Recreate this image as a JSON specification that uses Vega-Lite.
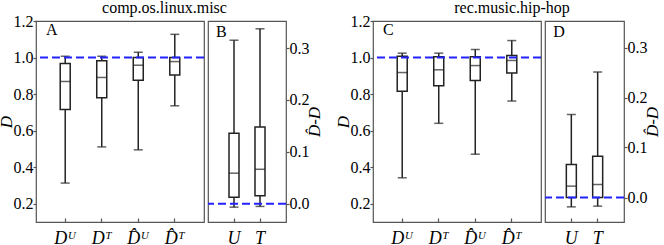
{
  "$schema": "https://vega.github.io/schema/vega-lite/v6.json",
  "padding": {"left": -4, "top": 0, "right": 0, "bottom": 0},
  "datasets": {
    "A": [
      {"cat": "D\u1d41", "lo": 0.313, "q1": 0.716, "med": 0.869, "q3": 0.967, "hi": 1.007},
      {"cat": "D\u1d40", "lo": 0.511, "q1": 0.78, "med": 0.891, "q3": 0.982, "hi": 1.007},
      {"cat": "D\u0302\u1d41", "lo": 0.495, "q1": 0.876, "med": 0.958, "q3": 1.0, "hi": 1.029},
      {"cat": "D\u0302\u1d40", "lo": 0.736, "q1": 0.904, "med": 0.978, "q3": 1.0, "hi": 1.127}
    ],
    "B": [
      {"cat": "U", "lo": -0.0064, "q1": 0.0128, "med": 0.059, "q3": 0.136, "hi": 0.315},
      {"cat": "T", "lo": -0.005, "q1": 0.0154, "med": 0.0665, "q3": 0.148, "hi": 0.337}
    ],
    "C": [
      {"cat": "D\u1d41", "lo": 0.342, "q1": 0.815, "med": 0.918, "q3": 1.007, "hi": 1.024},
      {"cat": "D\u1d40", "lo": 0.64, "q1": 0.845, "med": 0.933, "q3": 1.004, "hi": 1.024},
      {"cat": "D\u0302\u1d41", "lo": 0.471, "q1": 0.875, "med": 0.956, "q3": 1.004, "hi": 1.044},
      {"cat": "D\u0302\u1d40", "lo": 0.762, "q1": 0.915, "med": 0.984, "q3": 1.011, "hi": 1.093}
    ],
    "D": [
      {"cat": "U", "lo": -0.0187, "q1": 0.0, "med": 0.0227, "q3": 0.066, "hi": 0.166},
      {"cat": "T", "lo": -0.0173, "q1": 0.0, "med": 0.026, "q3": 0.0827, "hi": 0.251}
    ],
    "refs": [
      {"panel": "A", "ref": 1.0},
      {"panel": "B", "ref": 0.0},
      {"panel": "C", "ref": 1.0},
      {"panel": "D", "ref": 0.0}
    ],
    "letters": [
      {"panel": "A", "text": "A", "cat": "D\u1d41", "y": 1.123},
      {"panel": "B", "text": "B", "cat": "U", "y": 0.321},
      {"panel": "C", "text": "C", "cat": "D\u1d41", "y": 1.123},
      {"panel": "D", "text": "D", "cat": "U", "y": 0.321}
    ]
  },
  "hconcat": [
    {
      "title": {"text": "comp.os.linux.misc", "anchor": "middle", "dx": 5, "font": "Liberation Serif", "fontSize": 16, "fontWeight": "normal", "color": "#000", "offset": -4},
      "spacing": 0,
      "hconcat": [
        {
          "width": 168, "height": 201,
          "layer": [
            {"data": {"name": "A"}, "mark": {"type": "rule", "color": "#222", "strokeWidth": 1.5},
             "encoding": {"x": {"field": "cat", "type": "nominal", "sort": null, "scale": {"paddingInner": 0, "paddingOuter": 0.3}, "axis": {"title": null}},
                          "y": {"field": "lo", "type": "quantitative", "scale": {"domain": [0.1, 1.2], "nice": false, "zero": false}, "axis": {"orient": "left", "title": "D", "values": [0.2, 0.4, 0.6, 0.8, 1.0, 1.2], "format": ".1f"}},
                          "y2": {"field": "hi"}}},
            {"data": {"name": "A"}, "mark": {"type": "tick", "color": "#222", "size": 9, "thickness": 1.5},
             "encoding": {"x": {"field": "cat", "type": "nominal", "sort": null, "scale": {"paddingInner": 0, "paddingOuter": 0.3}, "axis": {"title": null}},
                          "y": {"field": "lo", "type": "quantitative", "scale": {"domain": [0.1, 1.2], "nice": false, "zero": false}, "axis": {"orient": "left", "title": "D", "values": [0.2, 0.4, 0.6, 0.8, 1.0, 1.2], "format": ".1f"}}}},
            {"data": {"name": "A"}, "mark": {"type": "tick", "color": "#222", "size": 9, "thickness": 1.5},
             "encoding": {"x": {"field": "cat", "type": "nominal", "sort": null, "scale": {"paddingInner": 0, "paddingOuter": 0.3}, "axis": {"title": null}},
                          "y": {"field": "hi", "type": "quantitative", "scale": {"domain": [0.1, 1.2], "nice": false, "zero": false}, "axis": {"orient": "left", "title": "D", "values": [0.2, 0.4, 0.6, 0.8, 1.0, 1.2], "format": ".1f"}}}},
            {"data": {"name": "A"}, "mark": {"type": "bar", "fill": "white", "stroke": "#222", "strokeWidth": 1.5, "size": 10},
             "encoding": {"x": {"field": "cat", "type": "nominal", "sort": null, "scale": {"paddingInner": 0, "paddingOuter": 0.3}, "axis": {"title": null}},
                          "y": {"field": "q1", "type": "quantitative", "scale": {"domain": [0.1, 1.2], "nice": false, "zero": false}, "axis": {"orient": "left", "title": "D", "values": [0.2, 0.4, 0.6, 0.8, 1.0, 1.2], "format": ".1f"}},
                          "y2": {"field": "q3"}}},
            {"data": {"name": "A"}, "mark": {"type": "tick", "color": "#222", "size": 10, "thickness": 1.5},
             "encoding": {"x": {"field": "cat", "type": "nominal", "sort": null, "scale": {"paddingInner": 0, "paddingOuter": 0.3}, "axis": {"title": null}},
                          "y": {"field": "med", "type": "quantitative", "scale": {"domain": [0.1, 1.2], "nice": false, "zero": false}, "axis": {"orient": "left", "title": "D", "values": [0.2, 0.4, 0.6, 0.8, 1.0, 1.2], "format": ".1f"}}}},
            {"data": {"name": "refs"}, "transform": [{"filter": "datum.panel === 'A'"}],
             "mark": {"type": "rule", "color": "#2222ff", "strokeWidth": 2, "strokeDash": [8, 4]},
             "encoding": {"y": {"field": "ref", "type": "quantitative", "scale": {"domain": [0.1, 1.2], "nice": false, "zero": false}, "axis": {"orient": "left", "title": "D", "values": [0.2, 0.4, 0.6, 0.8, 1.0, 1.2], "format": ".1f"}}}},
            {"data": {"name": "letters"}, "transform": [{"filter": "datum.panel === 'A'"}],
             "mark": {"type": "text", "align": "left", "baseline": "alphabetic", "dx": -1, "fontSize": 16, "font": "Liberation Serif", "color": "#000"},
             "encoding": {"x": {"field": "cat", "type": "nominal", "sort": null, "bandPosition": 0, "scale": {"paddingInner": 0, "paddingOuter": 0.3}, "axis": {"title": null}},
                          "y": {"field": "y", "type": "quantitative", "scale": {"domain": [0.1, 1.2], "nice": false, "zero": false}, "axis": {"orient": "left", "title": "D", "values": [0.2, 0.4, 0.6, 0.8, 1.0, 1.2], "format": ".1f"}},
                          "text": {"field": "text"}}}
          ]
        },
        {
          "width": 78, "height": 201,
          "layer": [
            {"data": {"name": "B"}, "mark": {"type": "rule", "color": "#222", "strokeWidth": 1.5},
             "encoding": {"x": {"field": "cat", "type": "nominal", "sort": null, "scale": {"paddingInner": 0, "paddingOuter": 0.5}, "axis": {"title": null}},
                          "y": {"field": "lo", "type": "quantitative", "scale": {"domain": [-0.035, 0.352], "nice": false, "zero": false}, "axis": {"orient": "right", "title": "D\u0302-D", "values": [0, 0.1, 0.2, 0.3], "format": ".1f", "titleAngle": 270}},
                          "y2": {"field": "hi"}}},
            {"data": {"name": "B"}, "mark": {"type": "tick", "color": "#222", "size": 9, "thickness": 1.5},
             "encoding": {"x": {"field": "cat", "type": "nominal", "sort": null, "scale": {"paddingInner": 0, "paddingOuter": 0.5}, "axis": {"title": null}},
                          "y": {"field": "lo", "type": "quantitative", "scale": {"domain": [-0.035, 0.352], "nice": false, "zero": false}, "axis": {"orient": "right", "title": "D\u0302-D", "values": [0, 0.1, 0.2, 0.3], "format": ".1f", "titleAngle": 270}}}},
            {"data": {"name": "B"}, "mark": {"type": "tick", "color": "#222", "size": 9, "thickness": 1.5},
             "encoding": {"x": {"field": "cat", "type": "nominal", "sort": null, "scale": {"paddingInner": 0, "paddingOuter": 0.5}, "axis": {"title": null}},
                          "y": {"field": "hi", "type": "quantitative", "scale": {"domain": [-0.035, 0.352], "nice": false, "zero": false}, "axis": {"orient": "right", "title": "D\u0302-D", "values": [0, 0.1, 0.2, 0.3], "format": ".1f", "titleAngle": 270}}}},
            {"data": {"name": "B"}, "mark": {"type": "bar", "fill": "white", "stroke": "#222", "strokeWidth": 1.5, "size": 10},
             "encoding": {"x": {"field": "cat", "type": "nominal", "sort": null, "scale": {"paddingInner": 0, "paddingOuter": 0.5}, "axis": {"title": null}},
                          "y": {"field": "q1", "type": "quantitative", "scale": {"domain": [-0.035, 0.352], "nice": false, "zero": false}, "axis": {"orient": "right", "title": "D\u0302-D", "values": [0, 0.1, 0.2, 0.3], "format": ".1f", "titleAngle": 270}},
                          "y2": {"field": "q3"}}},
            {"data": {"name": "B"}, "mark": {"type": "tick", "color": "#222", "size": 10, "thickness": 1.5},
             "encoding": {"x": {"field": "cat", "type": "nominal", "sort": null, "scale": {"paddingInner": 0, "paddingOuter": 0.5}, "axis": {"title": null}},
                          "y": {"field": "med", "type": "quantitative", "scale": {"domain": [-0.035, 0.352], "nice": false, "zero": false}, "axis": {"orient": "right", "title": "D\u0302-D", "values": [0, 0.1, 0.2, 0.3], "format": ".1f", "titleAngle": 270}}}},
            {"data": {"name": "refs"}, "transform": [{"filter": "datum.panel === 'B'"}],
             "mark": {"type": "rule", "color": "#2222ff", "strokeWidth": 2, "strokeDash": [8, 4]},
             "encoding": {"y": {"field": "ref", "type": "quantitative", "scale": {"domain": [-0.035, 0.352], "nice": false, "zero": false}, "axis": {"orient": "right", "title": "D\u0302-D", "values": [0, 0.1, 0.2, 0.3], "format": ".1f", "titleAngle": 270}}}},
            {"data": {"name": "letters"}, "transform": [{"filter": "datum.panel === 'B'"}],
             "mark": {"type": "text", "align": "left", "baseline": "alphabetic", "dx": -5, "fontSize": 16, "font": "Liberation Serif", "color": "#000"},
             "encoding": {"x": {"field": "cat", "type": "nominal", "sort": null, "bandPosition": 0, "scale": {"paddingInner": 0, "paddingOuter": 0.5}, "axis": {"title": null}},
                          "y": {"field": "y", "type": "quantitative", "scale": {"domain": [-0.035, 0.352], "nice": false, "zero": false}, "axis": {"orient": "right", "title": "D\u0302-D", "values": [0, 0.1, 0.2, 0.3], "format": ".1f", "titleAngle": 270}},
                          "text": {"field": "text"}}}
          ]
        }
      ]
    },
    {
      "title": {"text": "rec.music.hip-hop", "anchor": "middle", "dx": 15, "font": "Liberation Serif", "fontSize": 16, "fontWeight": "normal", "color": "#000", "offset": -4},
      "spacing": 0,
      "hconcat": [
        {
          "width": 168, "height": 201,
          "layer": [
            {"data": {"name": "C"}, "mark": {"type": "rule", "color": "#222", "strokeWidth": 1.5},
             "encoding": {"x": {"field": "cat", "type": "nominal", "sort": null, "scale": {"paddingInner": 0, "paddingOuter": 0.3}, "axis": {"title": null}},
                          "y": {"field": "lo", "type": "quantitative", "scale": {"domain": [0.1, 1.2], "nice": false, "zero": false}, "axis": {"orient": "left", "title": "D", "values": [0.2, 0.4, 0.6, 0.8, 1.0, 1.2], "format": ".1f"}},
                          "y2": {"field": "hi"}}},
            {"data": {"name": "C"}, "mark": {"type": "tick", "color": "#222", "size": 9, "thickness": 1.5},
             "encoding": {"x": {"field": "cat", "type": "nominal", "sort": null, "scale": {"paddingInner": 0, "paddingOuter": 0.3}, "axis": {"title": null}},
                          "y": {"field": "lo", "type": "quantitative", "scale": {"domain": [0.1, 1.2], "nice": false, "zero": false}, "axis": {"orient": "left", "title": "D", "values": [0.2, 0.4, 0.6, 0.8, 1.0, 1.2], "format": ".1f"}}}},
            {"data": {"name": "C"}, "mark": {"type": "tick", "color": "#222", "size": 9, "thickness": 1.5},
             "encoding": {"x": {"field": "cat", "type": "nominal", "sort": null, "scale": {"paddingInner": 0, "paddingOuter": 0.3}, "axis": {"title": null}},
                          "y": {"field": "hi", "type": "quantitative", "scale": {"domain": [0.1, 1.2], "nice": false, "zero": false}, "axis": {"orient": "left", "title": "D", "values": [0.2, 0.4, 0.6, 0.8, 1.0, 1.2], "format": ".1f"}}}},
            {"data": {"name": "C"}, "mark": {"type": "bar", "fill": "white", "stroke": "#222", "strokeWidth": 1.5, "size": 10},
             "encoding": {"x": {"field": "cat", "type": "nominal", "sort": null, "scale": {"paddingInner": 0, "paddingOuter": 0.3}, "axis": {"title": null}},
                          "y": {"field": "q1", "type": "quantitative", "scale": {"domain": [0.1, 1.2], "nice": false, "zero": false}, "axis": {"orient": "left", "title": "D", "values": [0.2, 0.4, 0.6, 0.8, 1.0, 1.2], "format": ".1f"}},
                          "y2": {"field": "q3"}}},
            {"data": {"name": "C"}, "mark": {"type": "tick", "color": "#222", "size": 10, "thickness": 1.5},
             "encoding": {"x": {"field": "cat", "type": "nominal", "sort": null, "scale": {"paddingInner": 0, "paddingOuter": 0.3}, "axis": {"title": null}},
                          "y": {"field": "med", "type": "quantitative", "scale": {"domain": [0.1, 1.2], "nice": false, "zero": false}, "axis": {"orient": "left", "title": "D", "values": [0.2, 0.4, 0.6, 0.8, 1.0, 1.2], "format": ".1f"}}}},
            {"data": {"name": "refs"}, "transform": [{"filter": "datum.panel === 'C'"}],
             "mark": {"type": "rule", "color": "#2222ff", "strokeWidth": 2, "strokeDash": [8, 4]},
             "encoding": {"y": {"field": "ref", "type": "quantitative", "scale": {"domain": [0.1, 1.2], "nice": false, "zero": false}, "axis": {"orient": "left", "title": "D", "values": [0.2, 0.4, 0.6, 0.8, 1.0, 1.2], "format": ".1f"}}}},
            {"data": {"name": "letters"}, "transform": [{"filter": "datum.panel === 'C'"}],
             "mark": {"type": "text", "align": "left", "baseline": "alphabetic", "dx": -1, "fontSize": 16, "font": "Liberation Serif", "color": "#000"},
             "encoding": {"x": {"field": "cat", "type": "nominal", "sort": null, "bandPosition": 0, "scale": {"paddingInner": 0, "paddingOuter": 0.3}, "axis": {"title": null}},
                          "y": {"field": "y", "type": "quantitative", "scale": {"domain": [0.1, 1.2], "nice": false, "zero": false}, "axis": {"orient": "left", "title": "D", "values": [0.2, 0.4, 0.6, 0.8, 1.0, 1.2], "format": ".1f"}},
                          "text": {"field": "text"}}}
          ]
        },
        {
          "width": 79, "height": 201,
          "layer": [
            {"data": {"name": "D"}, "mark": {"type": "rule", "color": "#222", "strokeWidth": 1.5},
             "encoding": {"x": {"field": "cat", "type": "nominal", "sort": null, "scale": {"paddingInner": 0, "paddingOuter": 0.5}, "axis": {"title": null}},
                          "y": {"field": "lo", "type": "quantitative", "scale": {"domain": [-0.049, 0.353], "nice": false, "zero": false}, "axis": {"orient": "right", "title": "D\u0302-D", "values": [0, 0.1, 0.2, 0.3], "format": ".1f", "titleAngle": 270}},
                          "y2": {"field": "hi"}}},
            {"data": {"name": "D"}, "mark": {"type": "tick", "color": "#222", "size": 9, "thickness": 1.5},
             "encoding": {"x": {"field": "cat", "type": "nominal", "sort": null, "scale": {"paddingInner": 0, "paddingOuter": 0.5}, "axis": {"title": null}},
                          "y": {"field": "lo", "type": "quantitative", "scale": {"domain": [-0.049, 0.353], "nice": false, "zero": false}, "axis": {"orient": "right", "title": "D\u0302-D", "values": [0, 0.1, 0.2, 0.3], "format": ".1f", "titleAngle": 270}}}},
            {"data": {"name": "D"}, "mark": {"type": "tick", "color": "#222", "size": 9, "thickness": 1.5},
             "encoding": {"x": {"field": "cat", "type": "nominal", "sort": null, "scale": {"paddingInner": 0, "paddingOuter": 0.5}, "axis": {"title": null}},
                          "y": {"field": "hi", "type": "quantitative", "scale": {"domain": [-0.049, 0.353], "nice": false, "zero": false}, "axis": {"orient": "right", "title": "D\u0302-D", "values": [0, 0.1, 0.2, 0.3], "format": ".1f", "titleAngle": 270}}}},
            {"data": {"name": "D"}, "mark": {"type": "bar", "fill": "white", "stroke": "#222", "strokeWidth": 1.5, "size": 10},
             "encoding": {"x": {"field": "cat", "type": "nominal", "sort": null, "scale": {"paddingInner": 0, "paddingOuter": 0.5}, "axis": {"title": null}},
                          "y": {"field": "q1", "type": "quantitative", "scale": {"domain": [-0.049, 0.353], "nice": false, "zero": false}, "axis": {"orient": "right", "title": "D\u0302-D", "values": [0, 0.1, 0.2, 0.3], "format": ".1f", "titleAngle": 270}},
                          "y2": {"field": "q3"}}},
            {"data": {"name": "D"}, "mark": {"type": "tick", "color": "#222", "size": 10, "thickness": 1.5},
             "encoding": {"x": {"field": "cat", "type": "nominal", "sort": null, "scale": {"paddingInner": 0, "paddingOuter": 0.5}, "axis": {"title": null}},
                          "y": {"field": "med", "type": "quantitative", "scale": {"domain": [-0.049, 0.353], "nice": false, "zero": false}, "axis": {"orient": "right", "title": "D\u0302-D", "values": [0, 0.1, 0.2, 0.3], "format": ".1f", "titleAngle": 270}}}},
            {"data": {"name": "refs"}, "transform": [{"filter": "datum.panel === 'D'"}],
             "mark": {"type": "rule", "color": "#2222ff", "strokeWidth": 2, "strokeDash": [8, 4]},
             "encoding": {"y": {"field": "ref", "type": "quantitative", "scale": {"domain": [-0.049, 0.353], "nice": false, "zero": false}, "axis": {"orient": "right", "title": "D\u0302-D", "values": [0, 0.1, 0.2, 0.3], "format": ".1f", "titleAngle": 270}}}},
            {"data": {"name": "letters"}, "transform": [{"filter": "datum.panel === 'D'"}],
             "mark": {"type": "text", "align": "left", "baseline": "alphabetic", "dx": -5, "fontSize": 16, "font": "Liberation Serif", "color": "#000"},
             "encoding": {"x": {"field": "cat", "type": "nominal", "sort": null, "bandPosition": 0, "scale": {"paddingInner": 0, "paddingOuter": 0.5}, "axis": {"title": null}},
                          "y": {"field": "y", "type": "quantitative", "scale": {"domain": [-0.049, 0.353], "nice": false, "zero": false}, "axis": {"orient": "right", "title": "D\u0302-D", "values": [0, 0.1, 0.2, 0.3], "format": ".1f", "titleAngle": 270}},
                          "text": {"field": "text"}}}
          ]
        }
      ]
    }
  ],
  "spacing": 10,
  "config": {
    "font": "Liberation Serif",
    "view": {"stroke": "#555", "strokeWidth": 1.2},
    "axis": {
      "grid": false, "domain": false,
      "tickColor": "#555", "tickSize": 3, "tickWidth": 1.2,
      "labelFont": "Liberation Serif", "labelFontSize": 16, "labelColor": "#000", "labelPadding": 0,
      "titleFont": "Liberation Serif", "titleFontSize": 17, "titleFontWeight": "normal", "titleFontStyle": "italic", "titleColor": "#000"
    },
    "axisLeft": {"titleBaseline": "alphabetic", "titlePadding": 2},
    "axisRight": {"titleBaseline": "top", "titlePadding": -3},
    "axisX": {"labelAngle": 0, "labelFontStyle": "italic", "tickSize": -4, "labelBaseline": "alphabetic", "labelPadding": 25, "labelFontSize": 18}
  }
}
